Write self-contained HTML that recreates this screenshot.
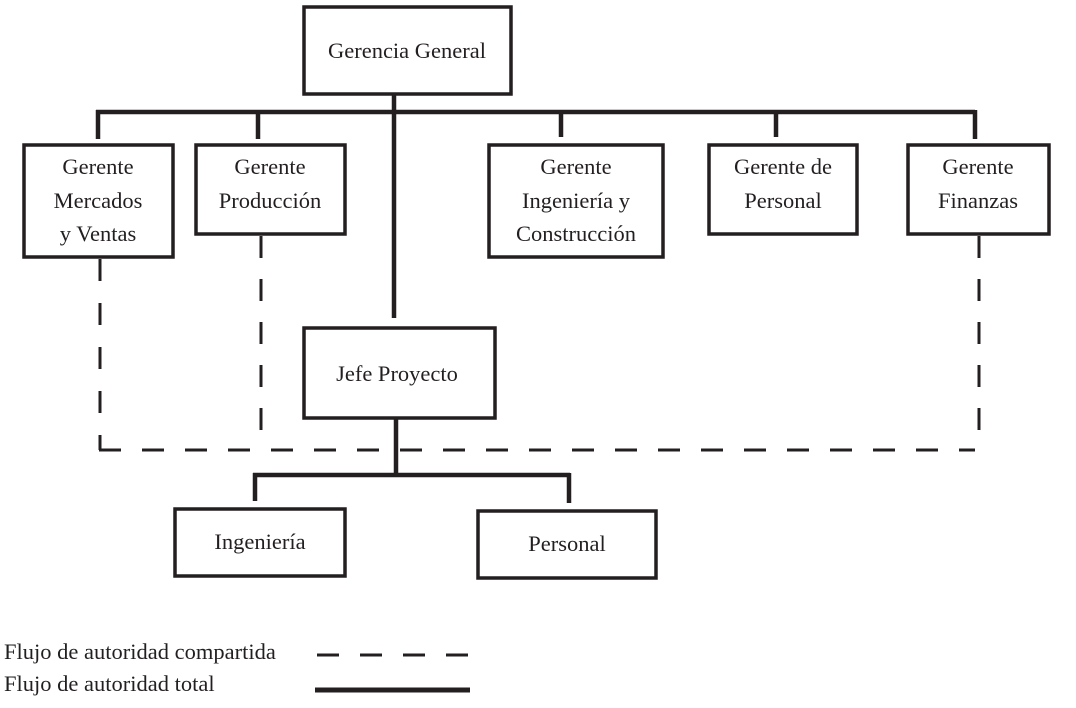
<!DOCTYPE html>
<html><head><meta charset="utf-8"><style>
html,body{margin:0;padding:0;background:#fff;}
svg{display:block}
text{font-family:"Liberation Serif",serif;font-size:22.5px;fill:#231f20;}
</style></head><body>
<svg width="1076" height="708" viewBox="0 0 1076 708">
<g fill="none" stroke="#231f20" stroke-width="3.5">
<rect x="304" y="7" width="207" height="87"/>
<rect x="24" y="145" width="149" height="112"/>
<rect x="196" y="145" width="149" height="89"/>
<rect x="489" y="145" width="174" height="112"/>
<rect x="709" y="145" width="148" height="89"/>
<rect x="908" y="145" width="141" height="89"/>
<rect x="304" y="328" width="191" height="90"/>
<rect x="175" y="509" width="170" height="67"/>
<rect x="478" y="511" width="178" height="67"/>
</g>
<g stroke="#231f20" stroke-width="4.5" fill="none">
<line x1="394" y1="94" x2="394" y2="318"/>
<line x1="96" y1="112" x2="975" y2="112"/>
<line x1="98" y1="110" x2="98" y2="139"/>
<line x1="258" y1="110" x2="258" y2="139"/>
<line x1="561" y1="110" x2="561" y2="137"/>
<line x1="776" y1="110" x2="776" y2="137"/>
<line x1="975" y1="110" x2="975" y2="139"/>
<line x1="396" y1="418" x2="396" y2="476"/>
<line x1="253" y1="475" x2="570" y2="475"/>
<line x1="255" y1="473" x2="255" y2="501"/>
<line x1="569" y1="473" x2="569" y2="503"/>
<line x1="315" y1="690" x2="470" y2="690" stroke-width="5"/>
</g>
<g stroke="#231f20" stroke-width="3" fill="none" stroke-dasharray="22 21">
<line x1="100" y1="259" x2="100" y2="450" stroke-dasharray="22 22"/>
<line x1="261" y1="236" x2="261" y2="442"/>
<line x1="979" y1="236" x2="979" y2="440"/>
<line x1="99" y1="450" x2="975" y2="450" stroke-dasharray="22 21"/>
<line x1="317" y1="655" x2="470" y2="655" stroke-dasharray="22 21"/>
</g>
<text x="407" y="58" text-anchor="middle">Gerencia General</text>
<text x="98" y="174" text-anchor="middle">Gerente</text>
<text x="98" y="208" text-anchor="middle">Mercados</text>
<text x="98" y="241" text-anchor="middle">y Ventas</text>
<text x="270" y="174" text-anchor="middle">Gerente</text>
<text x="270" y="208" text-anchor="middle">Producción</text>
<text x="576" y="174" text-anchor="middle">Gerente</text>
<text x="576" y="208" text-anchor="middle">Ingeniería y</text>
<text x="576" y="241" text-anchor="middle">Construcción</text>
<text x="783" y="174" text-anchor="middle">Gerente de</text>
<text x="783" y="208" text-anchor="middle">Personal</text>
<text x="978" y="174" text-anchor="middle">Gerente</text>
<text x="978" y="208" text-anchor="middle">Finanzas</text>
<text x="397" y="381" text-anchor="middle">Jefe Proyecto</text>
<text x="260" y="549" text-anchor="middle">Ingeniería</text>
<text x="567" y="551" text-anchor="middle">Personal</text>
<text x="4" y="659">Flujo de autoridad compartida</text>
<text x="4" y="691">Flujo de autoridad total</text>
</svg>
</body></html>
